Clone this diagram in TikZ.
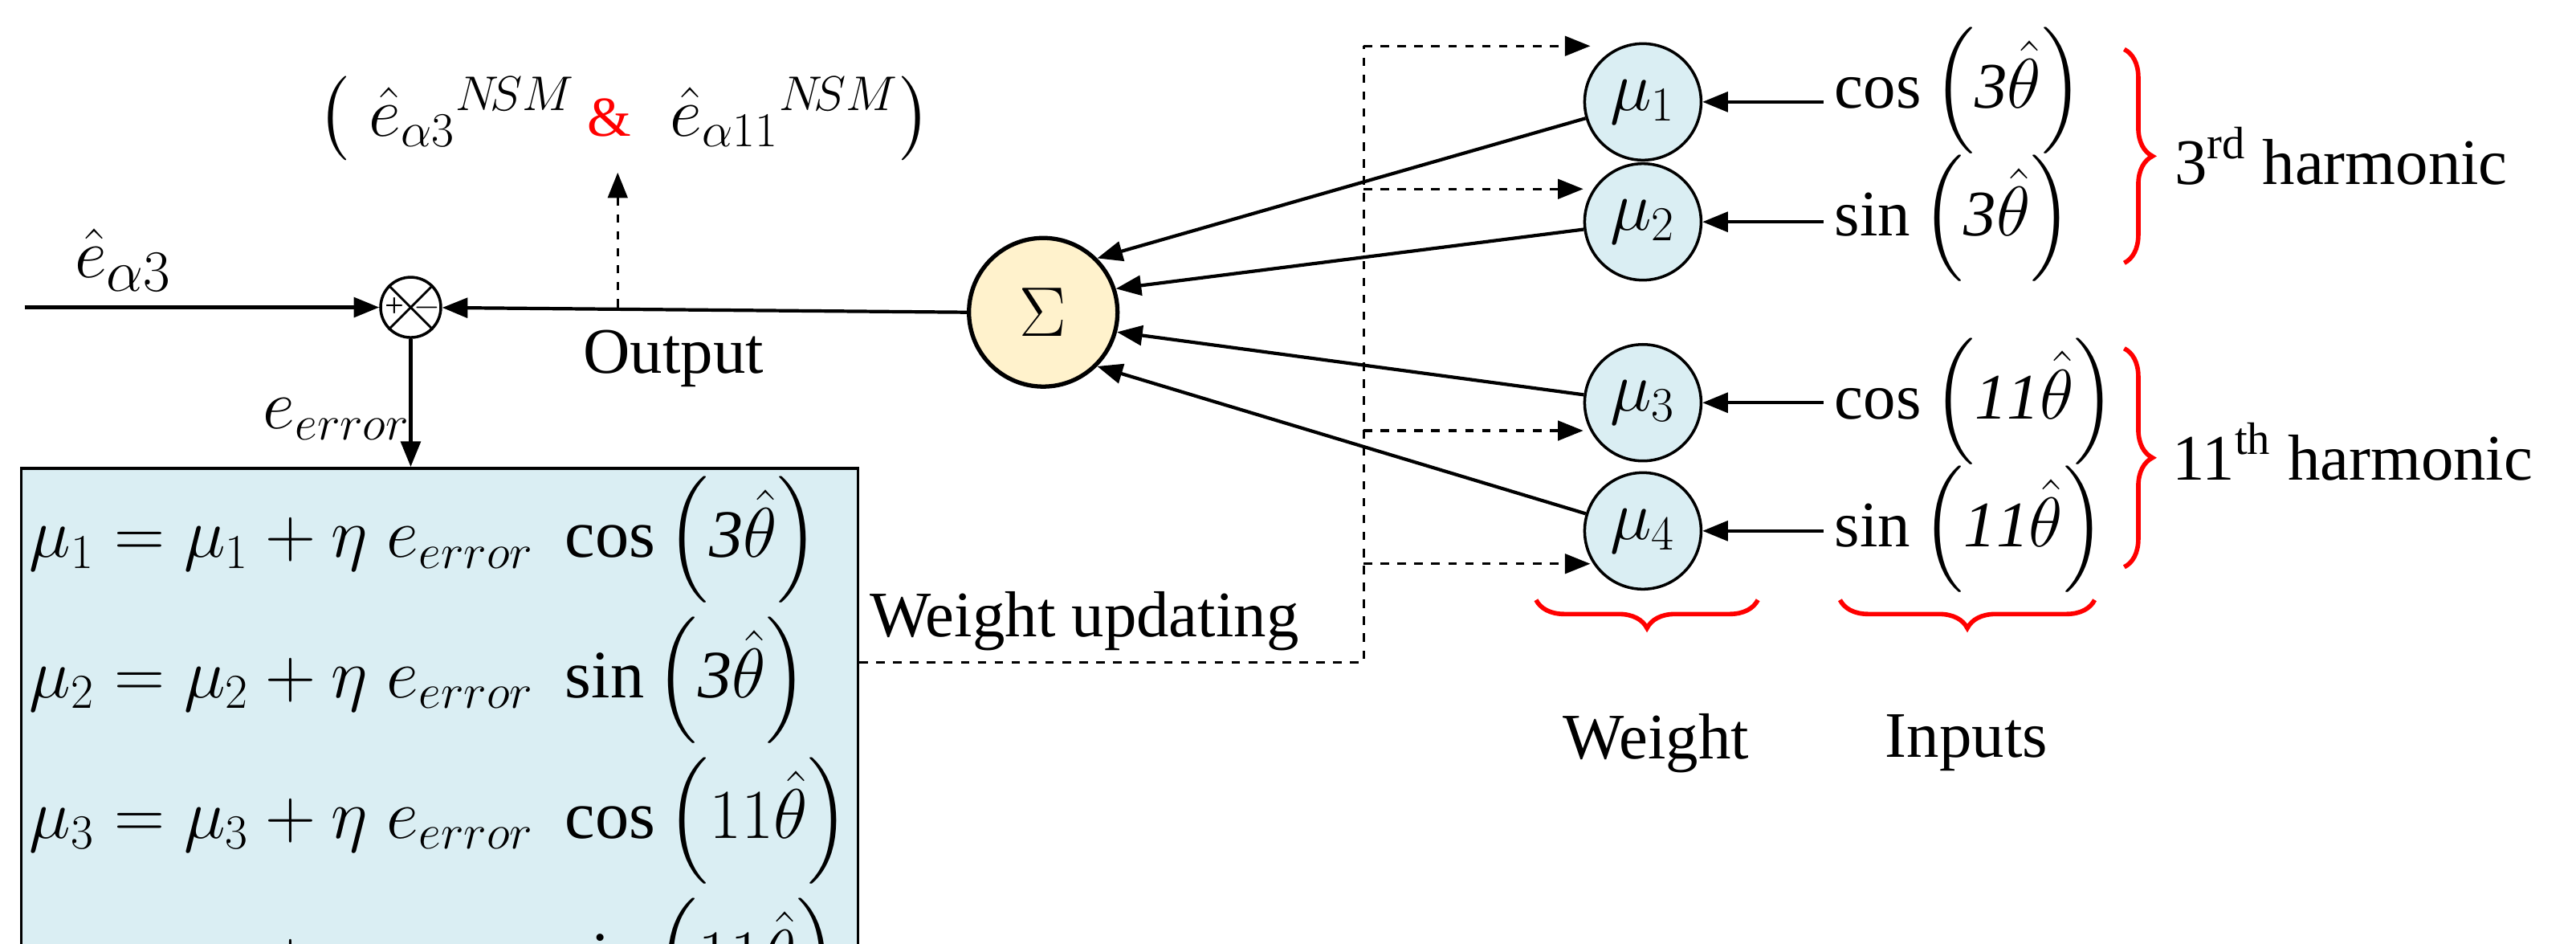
\documentclass[tikz,border=0pt]{standalone}
\usepackage{amsmath}
\usepackage{fontspec}
\setmainfont{Liberation Serif}
\usetikzlibrary{arrows.meta,decorations.pathreplacing,calc}
\definecolor{sumfill}{HTML}{FFF2CC}
\definecolor{mufill}{HTML}{DAEEF3}
\begin{document}
\begin{tikzpicture}[x=0.02046cm,y=-0.02046cm,
  line width=1.2pt,
  every node/.style={font=\fontsize{23}{27}\selectfont},
  arr/.style={-{Triangle[length=9pt,width=7pt]}},
  dsh/.style={dashed,line width=0.9pt},
  mu/.style={circle,draw,fill=mufill,minimum size=1.45cm,inner sep=0pt,line width=1pt},
  brace/.style={red,line width=1.6pt,decorate,decoration={brace,amplitude=10pt}}]
\useasboundingbox (0,0) rectangle (1568,574);
% nodes
\node[circle,draw,fill=sumfill,minimum size=1.85cm,inner sep=0pt,line width=1.5pt,font=\fontsize{32}{36}\selectfont] (sum) at (635,190) {$\Sigma$};
\node[circle,draw,minimum size=0.75cm,inner sep=0pt,line width=1pt] (jn) at (250,187) {};
\draw[line width=0.8pt] (jn.45)--(jn.225) (jn.135)--(jn.315);
\node[font=\fontsize{12}{12}\selectfont] (plus) at ($(jn)+(-10,0)$) {+};
\node[font=\fontsize{13}{13}\selectfont] (minus) at ($(jn)+(10,0)$) {$-$};
\node[mu] (m1) at (1000,62) {$\mu_1$};
\node[mu] (m2) at (1000,135) {$\mu_2$};
\node[mu] (m3) at (1000,245) {$\mu_3$};
\node[mu] (m4) at (1000,323) {$\mu_4$};
\node[anchor=west] (i1) at (1110,55) {$\cos\left(\mathit{3}\hat\theta\right)$};
\node[anchor=west] (i2) at (1110,133) {$\sin\left(\mathit{3}\hat\theta\right)$};
\node[anchor=west] (i3) at (1110,244) {$\cos\left(\mathit{11}\hat\theta\right)$};
\node[anchor=west] (i4) at (1110,322) {$\sin\left(\mathit{11}\hat\theta\right)$};
\foreach \i in {1,2,3,4}{\draw[arr] (i\i.west|-m\i) -- (m\i);}
\draw[arr] (m1) -- (sum.45);
\draw[arr] (m2) -- (sum.18);
\draw[arr] (m3) -- (sum.-15);
\draw[arr] (m4) -- (sum.-45);
% braces
\draw[brace] (1293,30) -- (1293,160);
\draw[brace] (1293,212) -- (1293,345);
\draw[brace] (1070,365) -- (935,365);
\draw[brace] (1275,365) -- (1120,365);
\node (h3) at (1425,95) {3\textsuperscript{rd} harmonic};
\node (h11) at (1432,275) {11\textsuperscript{th} harmonic};
\node (w) at (1008,452) {Weight};
\node (in) at (1197,452) {Inputs};
% box
\node[draw,fill=mufill,line width=1pt,anchor=north west,minimum width=9.88cm,minimum height=5.77cm,inner sep=3pt,align=left,font=\fontsize{24}{30}\selectfont] (box) at (12,284) {%
$\mu_1=\mu_1+\eta\; e_{error}\;\cos\left(\mathit{3}\hat\theta\right)$\\[4pt]
$\mu_2=\mu_2+\eta\; e_{error}\;\sin\left(\mathit{3}\hat\theta\right)$\\[4pt]
$\mu_3=\mu_3+\eta\; e_{error}\;\cos\left(11\hat\theta\right)$\\[4pt]
$\mu_4=\mu_4+\eta\; e_{error}\;\sin\left(11\hat\theta\right)$};
% left side
\coordinate (src) at (15,187);
\draw[arr] (src) -- (jn);
\node[font=\fontsize{28}{30}\selectfont] (ea3) at (75,158) {$\hat e_{\alpha 3}$};
\draw[arr] (sum.west) -- (jn);
\node (out) at (410,218) {Output};
\coordinate (tap) at (376,187);
\coordinate (up) at (376,105);
\draw[dsh,arr] (tap) -- (up);
\node[font=\fontsize{26}{28}\selectfont] (nsm) at (380,72) {$\bigl(\;\hat e_{\alpha 3}{}^{N\!SM}$\,{\color{red}\fontsize{20}{20}\selectfont\&}\; $\hat e_{\alpha 11}{}^{N\!SM}\bigr)$};
\draw[arr] (jn) -- (jn|-box.north);
\node[font=\fontsize{26}{28}\selectfont] (err) at (205,255) {$e_{error}$};
% weight updating
\coordinate (c0) at (830,403);
\coordinate (ctop) at (830,28);
\draw[dsh] (box.east|-c0) -- (c0) -- (ctop);
\node (wu) at (660,378) {Weight updating};
\coordinate (d1) at (830,28); \coordinate (d2) at (830,115);
\coordinate (d3) at (830,262); \coordinate (d4) at (830,343);
\coordinate (e1) at (968,28); \coordinate (e4) at (968,343);
\draw[dsh,arr] (d1) -- (e1);
\draw[dsh,arr] (d2) -- (m2.west|-d2);
\draw[dsh,arr] (d3) -- (m3.west|-d3);
\draw[dsh,arr] (d4) -- (e4);
\end{tikzpicture}
\end{document}
